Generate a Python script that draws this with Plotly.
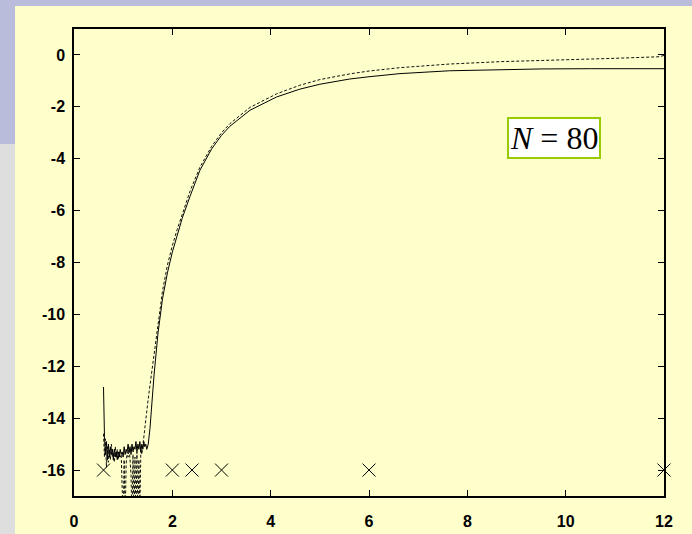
import plotly.graph_objects as go

# ---- data ----
solid_x = [0.60, 0.615,
           0.62, 0.64, 0.66, 0.68, 0.70, 0.72, 0.74, 0.76, 0.78, 0.80,
           0.82, 0.84, 0.86, 0.88, 0.90, 0.92, 0.94, 0.96, 0.98, 1.00,
           1.02, 1.04, 1.06, 1.08, 1.10, 1.12, 1.14, 1.16, 1.18, 1.20,
           1.22, 1.24, 1.26, 1.28, 1.30, 1.32, 1.34, 1.36, 1.38, 1.40,
           1.42, 1.44, 1.46, 1.48, 1.50,
           1.51, 1.545, 1.585, 1.63, 1.71, 1.80, 1.90, 2.00, 2.10, 2.20,
           2.36, 2.56, 2.80, 3.00, 3.17, 3.58, 4.12, 4.59, 5.00, 5.60,
           6.00, 6.63, 7.64, 8.66, 9.50, 10.5, 12.0]
solid_y = [-12.8, -14.5,
           -14.7, -15.4, -14.9, -15.6, -15.0, -15.5, -15.1, -15.4, -15.2, -15.6,
           -15.2, -15.5, -15.3, -15.6, -15.3, -15.5, -15.2, -15.4, -15.3, -15.5,
           -15.1, -15.4, -15.2, -15.3, -15.0, -15.3, -15.1, -15.4, -15.0, -15.3,
           -15.1, -15.2, -14.9, -15.3, -15.0, -15.2, -14.9, -15.3, -15.0, -15.2,
           -14.9, -15.1, -15.0, -15.2, -15.1,
           -15.0, -14.4, -13.3, -12.3, -10.7, -9.4, -8.4, -7.6, -6.95, -6.3,
           -5.45, -4.45, -3.62, -3.10, -2.75, -2.13, -1.62, -1.32, -1.13, -0.93,
           -0.84, -0.72, -0.61, -0.56, -0.54, -0.53, -0.53]

dashed_x = [0.60, 0.62, 0.64, 0.66, 0.68, 0.70, 0.72, 0.74, 0.76, 0.78,
            0.80, 0.82, 0.84, 0.86, 0.88, 0.90, 0.92, 0.94, 0.96, 0.98,
            1.00, 1.02, 1.04, 1.06, 1.08, 1.10, 1.12, 1.14, 1.16, 1.18,
            1.20, 1.22, 1.24, 1.26, 1.28, 1.30, 1.32, 1.34, 1.36, 1.38,
            1.40, 1.43, 1.47, 1.52, 1.58, 1.66, 1.73, 1.80, 1.90, 2.00,
            2.10, 2.20, 2.36, 2.56, 2.80, 3.00, 3.17, 3.58, 4.12, 4.59,
            5.00, 5.61, 6.00, 6.63, 7.64, 8.66, 9.90, 11.0, 11.9, 12.0]
dashed_y = [-14.6, -15.5, -14.8, -15.9, -15.1, -15.7, -15.2, -15.6, -15.0, -15.5,
            -15.3, -15.7, -15.1, -15.5, -15.2, -15.6, -15.3, -15.5, -15.4, -16.4,
            -18.0, -15.6, -18.0, -15.8, -15.3, -15.5, -15.2, -15.6, -16.2, -18.0,
            -15.4, -18.0, -15.5, -18.0, -15.3, -18.0, -15.6, -17.5, -15.2, -15.4,
            -15.0, -14.5, -13.9, -13.1, -12.2, -11.0, -10.0, -9.1, -8.1, -7.35,
            -6.72, -6.12, -5.25, -4.33, -3.52, -3.00, -2.65, -2.02, -1.50, -1.17,
            -0.95, -0.73, -0.62, -0.49, -0.35, -0.26, -0.20, -0.13, -0.07, -0.02]

cross_x = [0.6, 2.0, 2.4, 3.0, 6.0, 12.0]
cross_y = [-16, -16, -16, -16, -16, -16]

x_ticks = [0, 2, 4, 6, 8, 10, 12]
y_ticks = [0, -2, -4, -6, -8, -10, -12, -14, -16]

YELLOW = "#FFFFCC"
LAVENDER = "#B9BDDB"
GRAY = "#DEDEDE"

fig = go.Figure()
fig.add_trace(go.Scatter(x=dashed_x, y=dashed_y, mode="lines",
                         line=dict(color="#111111", width=1, dash="3px,2px"),
                         showlegend=False, hoverinfo="skip"))
fig.add_trace(go.Scatter(x=solid_x, y=solid_y, mode="lines",
                         line=dict(color="#000000", width=1),
                         showlegend=False, hoverinfo="skip"))
fig.add_trace(go.Scatter(x=cross_x, y=cross_y, mode="markers",
                         marker=dict(symbol="x-thin-open", size=13, color="#000000",
                                     line=dict(color="#000000", width=1)),
                         showlegend=False, hoverinfo="skip", cliponaxis=False))

axis_common = dict(showgrid=False, zeroline=False, showline=True,
                   linecolor="#000000", linewidth=1.5, mirror="ticks",
                   ticks="inside", ticklen=6, tickwidth=1, tickcolor="#000000",
                   automargin=False,
                   tickfont=dict(family="Liberation Sans, Arial", size=16,
                                 color="#000000", weight="bold"))

fig.update_xaxes(range=[0, 12], tickvals=x_ticks, ticktext=[str(v) for v in x_ticks],
                 ticklabelstandoff=10, **axis_common)
fig.update_yaxes(range=[-17, 1], tickvals=y_ticks, ticktext=[str(v) for v in y_ticks],
                 ticklabelstandoff=4, **axis_common)

fig.add_annotation(x=9.77, y=-3.22, xref="x", yref="y",
                   text="<i>N</i> = 80", showarrow=False,
                   font=dict(family="Liberation Serif, Times New Roman", size=32,
                             color="#000000"),
                   bgcolor="#FFFFFF", bordercolor="#99CC00", borderwidth=2,
                   borderpad=1)

L, R, T, B = 74, 28, 29, 38
W, H = 692, 534
pw, ph = W - L - R, H - T - B

def px_x(p):
    return (p - L) / pw

def px_y(p):
    return (H - B - p) / ph

shapes = [
    dict(type="rect", xref="paper", yref="paper", x0=px_x(-20), x1=px_x(W + 20),
         y0=px_y(6), y1=px_y(-20), fillcolor=LAVENDER, line=dict(width=0), layer="below"),
    dict(type="rect", xref="paper", yref="paper", x0=px_x(-20), x1=px_x(15),
         y0=px_y(144), y1=px_y(-20), fillcolor=LAVENDER, line=dict(width=0), layer="below"),
    dict(type="rect", xref="paper", yref="paper", x0=px_x(-20), x1=px_x(15),
         y0=px_y(H + 20), y1=px_y(144), fillcolor=GRAY, line=dict(width=0), layer="below"),
]

fig.update_layout(width=W, height=H, margin=dict(l=L, r=R, t=T, b=B),
                  paper_bgcolor=YELLOW, plot_bgcolor=YELLOW, shapes=shapes,
                  showlegend=False)

fig.write_html("out.html")
